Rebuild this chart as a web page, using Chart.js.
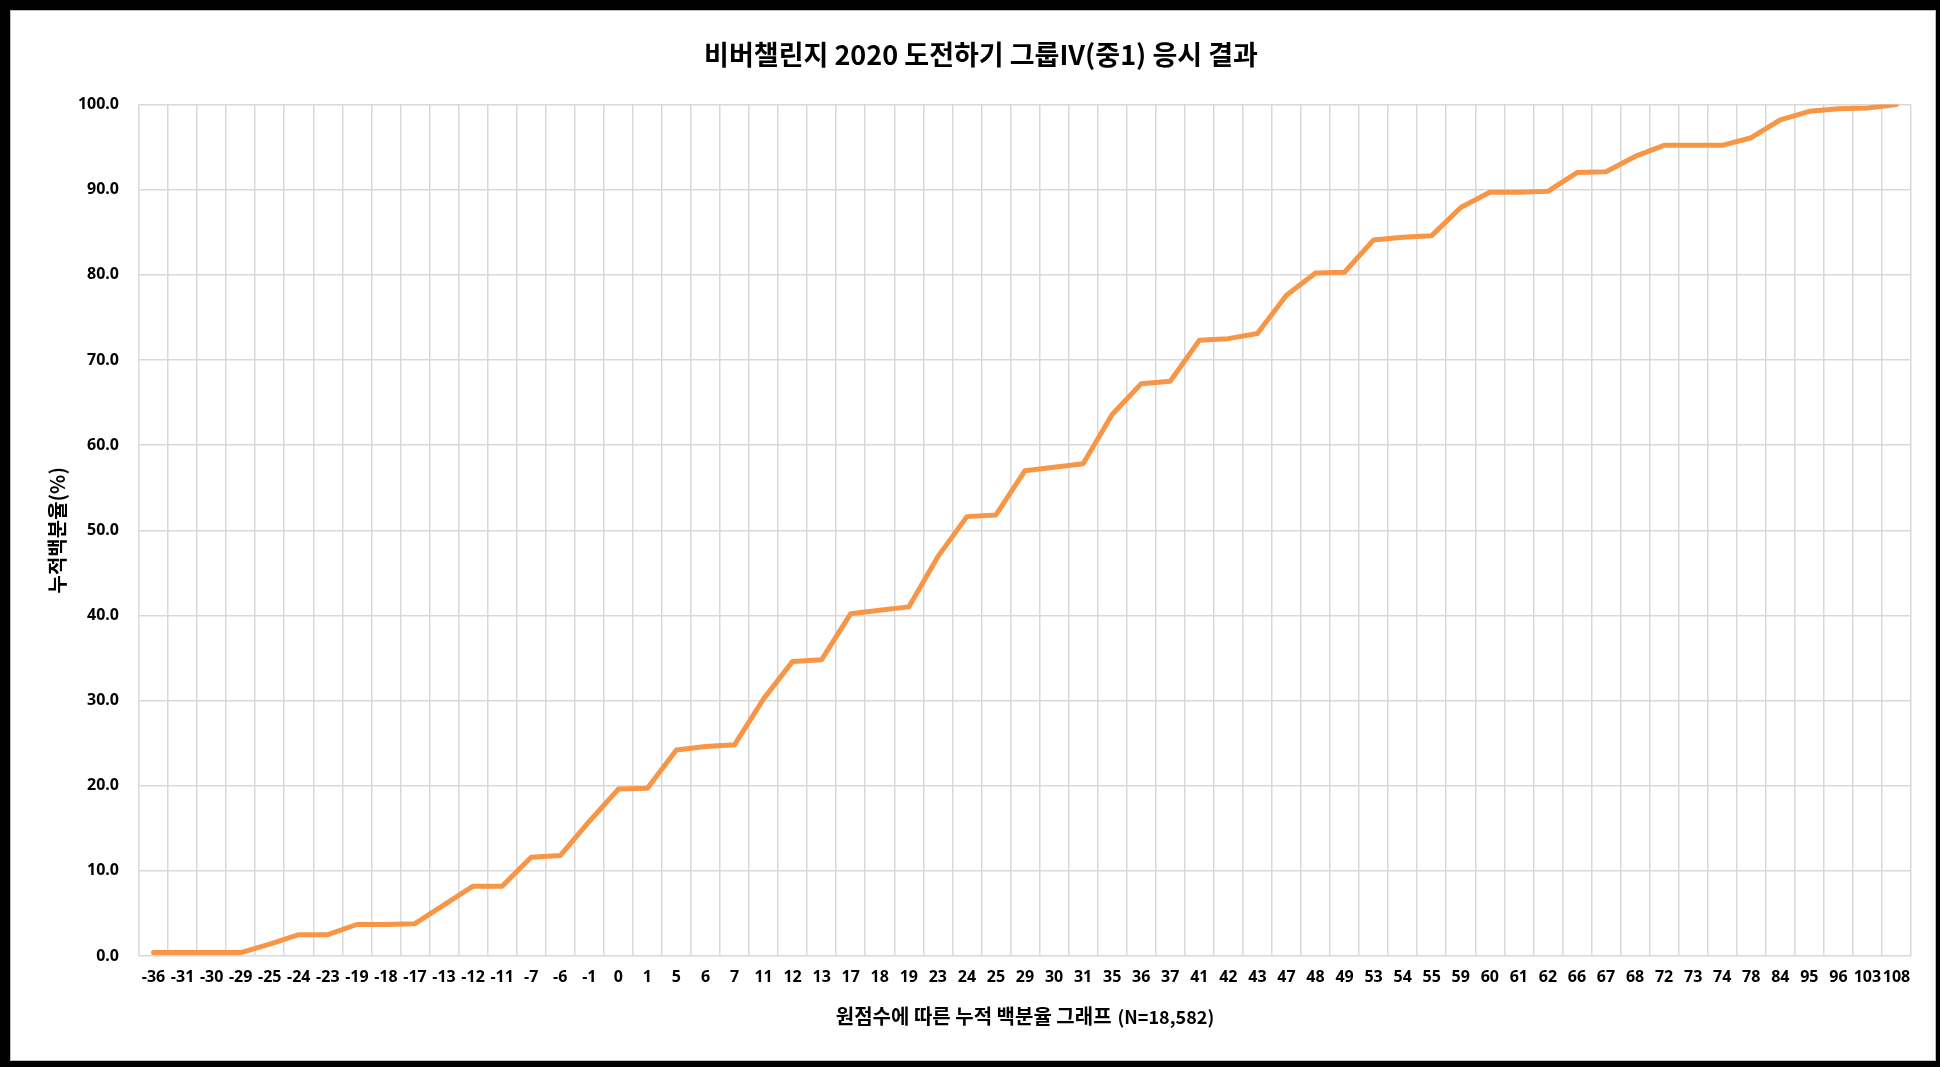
<!DOCTYPE html>
<html>
<head>
<meta charset="utf-8">
<script src="https://cdn.jsdelivr.net/npm/chart.js@4.4.1/dist/chart.umd.min.js"></script>
<style>
    body { margin: 0; background: #fff; }
    #frame {
        position: absolute; left: 0; top: 0;
        width: 1940px; height: 1067px;
        box-sizing: border-box;
        border-style: solid; border-color: #000;
        border-width: 10px 4px 6px 10px;
    }
    #inner {
        width: 100%; height: 100%;
        box-sizing: border-box;
        border: 1px solid #bfbfbf;
        background: #fff;
    }
    #box { position: relative; width: 1924px; height: 1049px; }
</style>
</head>
<body>
<div id="frame"><div id="inner"><div id="box"><canvas id="chart"></canvas></div></div></div>
<script>
const scores = ["-36", "-31", "-30", "-29", "-25", "-24", "-23", "-19", "-18", "-17",
    "-13", "-12", "-11", "-7", "-6", "-1", "0", "1", "5", "6", "7", "11", "12", "13",
    "17", "18", "19", "23", "24", "25", "29", "30", "31", "35", "36", "37", "41", "42",
    "43", "47", "48", "49", "53", "54", "55", "59", "60", "61", "62", "66", "67", "68",
    "72", "73", "74", "78", "84", "95", "96", "103", "108"];

const cumulativePct = [0.4, 0.4, 0.4, 0.4, 1.4, 2.5, 2.5, 3.7, 3.7, 3.8,
    6.0, 8.2, 8.2, 11.6, 11.8, 15.8, 19.6, 19.7, 24.2, 24.6, 24.8, 30.2, 34.6, 34.8,
    40.2, 40.6, 41.0, 46.9, 51.6, 51.8, 57.0, 57.4, 57.8, 63.6, 67.2, 67.5, 72.3, 72.5,
    73.1, 77.6, 80.2, 80.3, 84.1, 84.4, 84.6, 87.9, 89.7, 89.7, 89.8, 92.0, 92.1, 93.9,
    95.2, 95.2, 95.2, 96.1, 98.2, 99.2, 99.5, 99.6, 100.0];

const chartTitle = "비버챌린지 2020 도전하기 그룹IV(중1) 응시 결과";
const yTitle = "누적백분율(%)";
const xTitle = "원점수에 따른 누적 백분율 그래프";
const xTitleNote = "(N=18,582)";

const krFont = "'Noto Sans CJK KR', 'Noto Sans', sans-serif";
const tickFont = { family: "'Noto Sans', 'Noto Sans CJK KR', sans-serif", size: 16, weight: "bold" };

// titles drawn by hand so the two sizes in the x title line up
const titlePlugin = {
    id: "titles",
    afterDraw(c) {
        const ctx = c.ctx;
        const area = c.chartArea;
        ctx.save();
        ctx.fillStyle = "#000";

        ctx.font = "bold 27px " + krFont;
        ctx.textAlign = "center";
        ctx.textBaseline = "middle";
        ctx.fillText(chartTitle, 970, 44);

        ctx.save();
        ctx.translate(46, (area.top + area.bottom) / 2);
        ctx.rotate(-Math.PI / 2);
        ctx.font = "bold 20px " + krFont;
        ctx.fillText(yTitle, 0, 0);
        ctx.restore();

        ctx.textAlign = "left";
        ctx.textBaseline = "alphabetic";
        ctx.font = "bold 20px " + krFont;
        const w1 = ctx.measureText(xTitle).width;
        ctx.font = "bold 18px " + krFont;
        const w2 = ctx.measureText(xTitleNote).width;
        const gap = 6;
        let x = (area.left + area.right) / 2 - (w1 + gap + w2) / 2;
        ctx.font = "bold 20px " + krFont;
        ctx.fillText(xTitle, x, 1013);
        ctx.font = "bold 18px " + krFont;
        ctx.fillText(xTitleNote, x + w1 + gap, 1013);
        ctx.restore();
    }
};

const ctx = document.getElementById("chart");

new Chart(ctx, {
    type: "line",
    data: {
        labels: scores,
        datasets: [{
            data: cumulativePct,
            borderColor: "#F79646",
            borderWidth: 5,
            borderCapStyle: "round",
            borderJoinStyle: "round",
            pointRadius: 0,
            tension: 0,
            fill: false
        }]
    },
    options: {
        responsive: true,
        maintainAspectRatio: false,
        animation: false,
        layout: {
            padding: { top: 93.5, right: 24, bottom: 0, left: 0 }
        },
        plugins: {
            legend: { display: false },
            tooltip: { enabled: false },
            title: { display: false }
        },
        scales: {
            x: {
                offset: true,
                grid: { offset: true, color: "#d9d9d9", lineWidth: 1.5, drawTicks: false },
                border: { display: false },
                ticks: {
                    autoSkip: false,
                    maxRotation: 0,
                    minRotation: 0,
                    padding: 12,
                    color: "#000",
                    font: tickFont
                },
                afterFit(scale) { scale.height = 104; }
            },
            y: {
                min: 0,
                max: 100,
                grid: { color: "#d9d9d9", lineWidth: 1.5, drawTicks: false },
                border: { display: false },
                ticks: {
                    stepSize: 10,
                    padding: 20,
                    color: "#000",
                    font: tickFont,
                    callback: v => v.toFixed(1)
                },
                afterFit(scale) { scale.width = 128; }
            }
        }
    },
    plugins: [titlePlugin]
});
</script>
</body>
</html>
